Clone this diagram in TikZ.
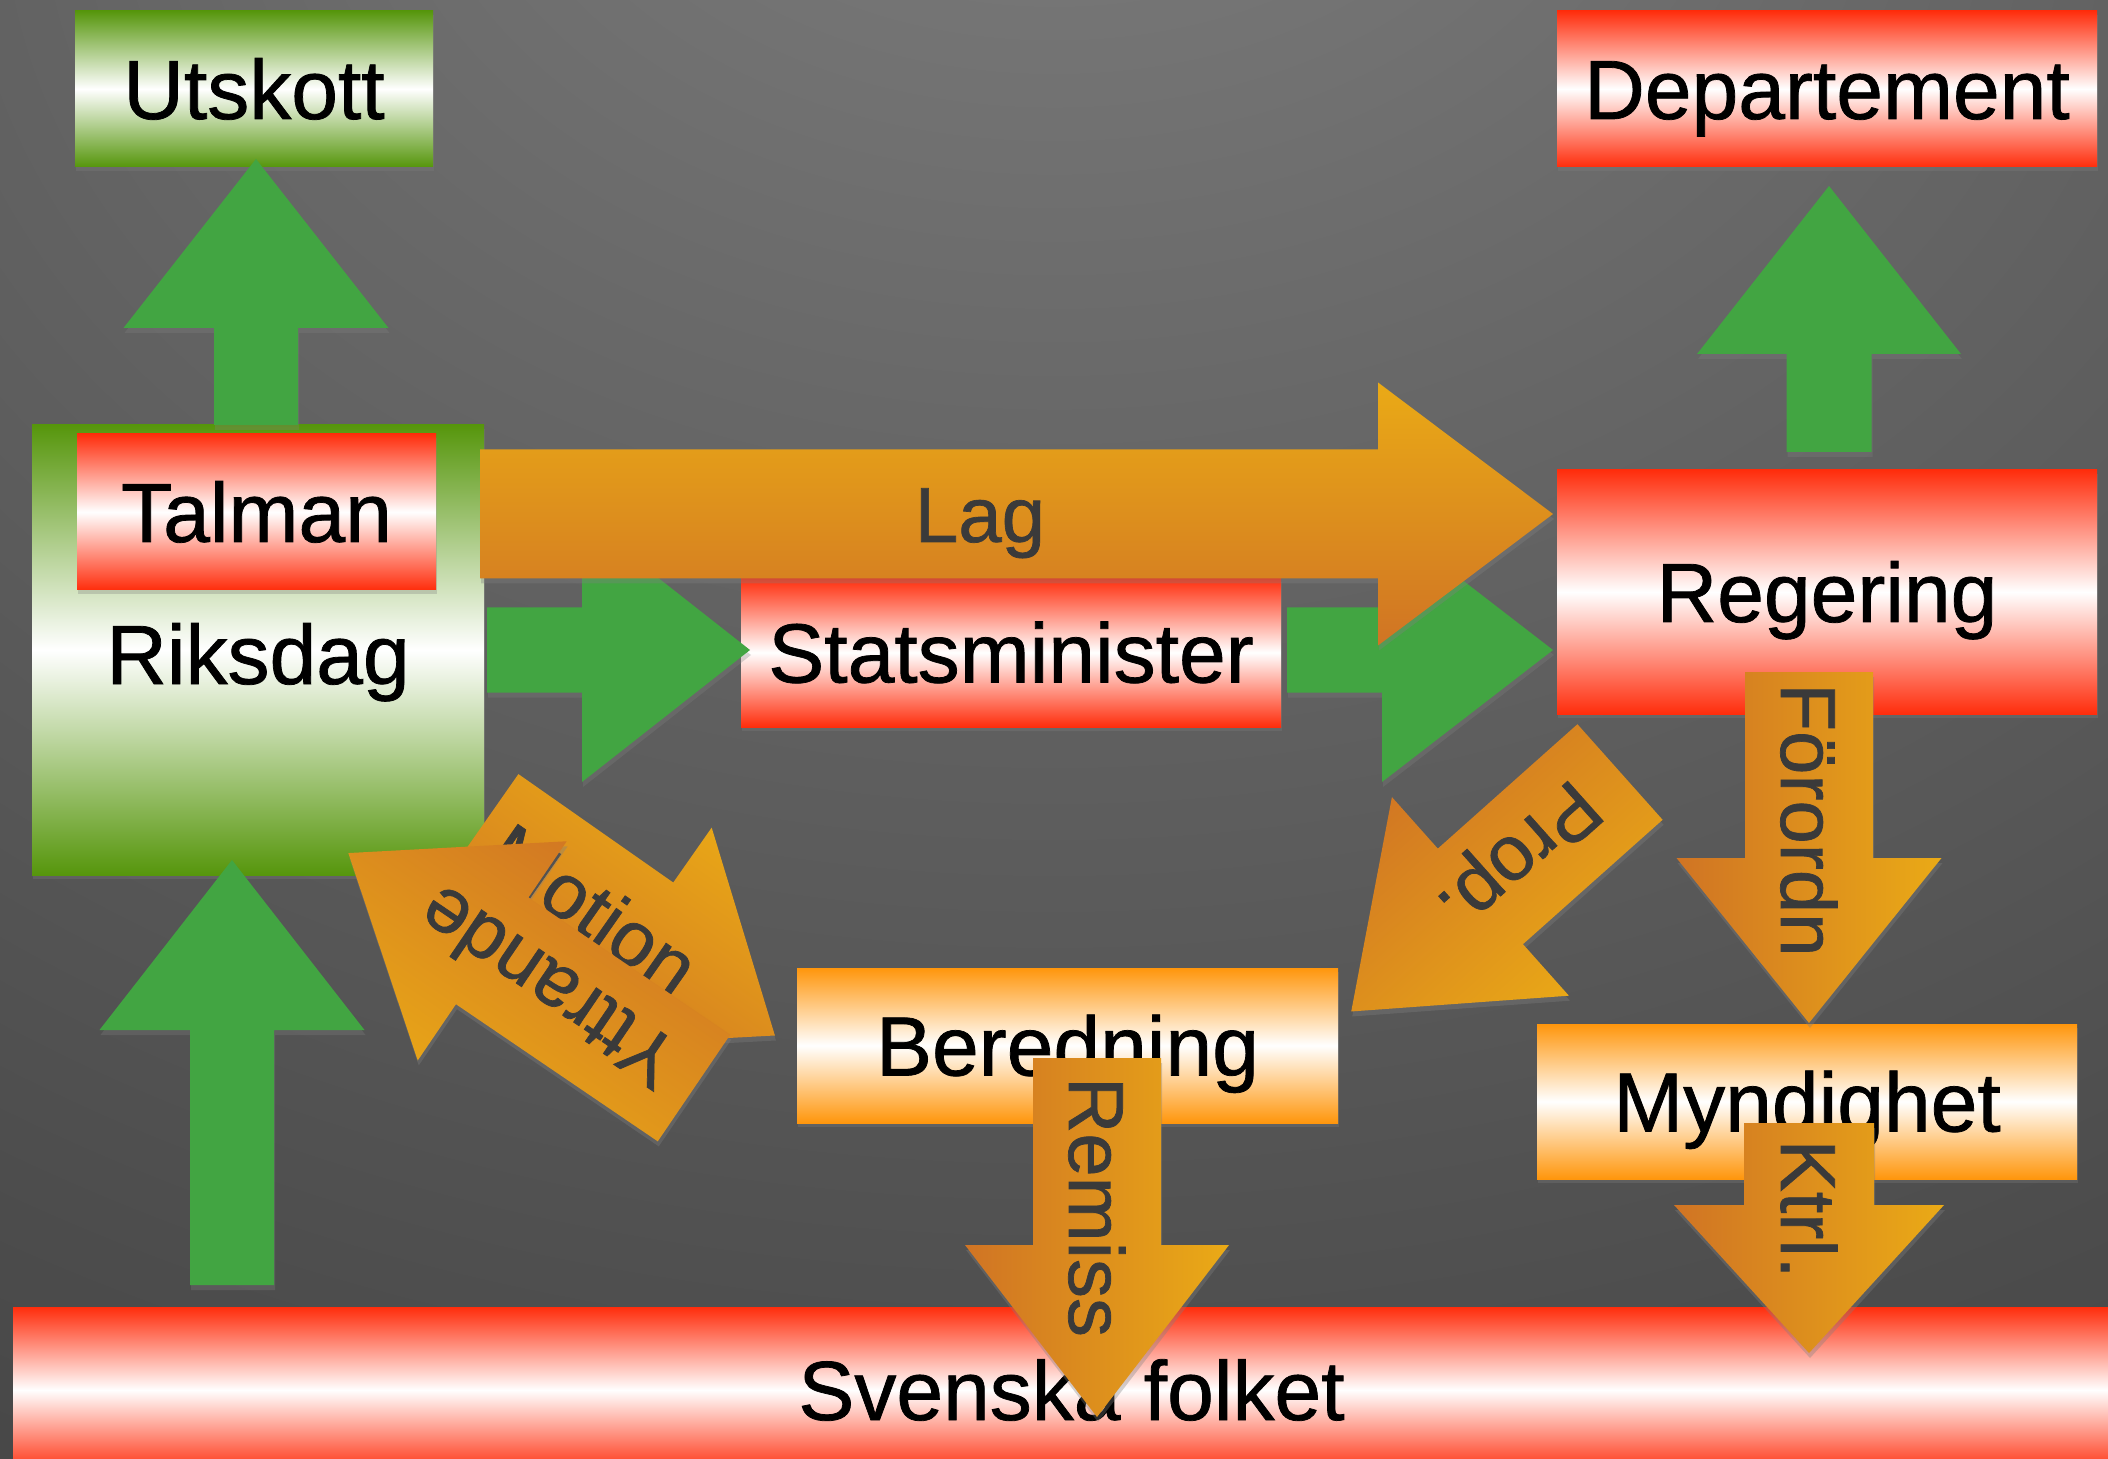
\documentclass[tikz,border=0pt]{standalone}
\usepackage{fontspec}
\setmainfont{Liberation Sans}[FakeBold=0.9]
\usetikzlibrary{shadows,calc}

\definecolor{bgA}{RGB}{128,128,128}
\definecolor{bgB}{RGB}{104,104,104}
\definecolor{bgC}{RGB}{76,76,76}
\definecolor{bgD}{RGB}{56,56,56}
\definecolor{greenA}{RGB}{86,150,12}
\definecolor{redA}{RGB}{255,45,12}
\definecolor{orangeA}{RGB}{255,150,12}
\definecolor{arrowgreen}{RGB}{66,165,66}
\definecolor{arrowlight}{RGB}{234,170,22}
\definecolor{arrowdark}{RGB}{208,116,36}
\definecolor{labelgray}{RGB}{58,58,58}

\pgfdeclareradialshading{bgshade}{\pgfpoint{0bp}{38bp}}{color(0bp)=(bgA); color(20bp)=(bgB); color(45bp)=(bgC); color(70bp)=(bgD); color(100bp)=(bgD)}

% box node: name, x1, y1, x2, y2, style, text
\newcommand\boxnode[7]{%
  \node[#6, minimum width={(#4-#2)*0.5pt}, minimum height={(#5-#3)*0.5pt}] (#1) at ({(#2+#4)/2},{(#3+#5)/2}) {#7};}

% fat arrow: name, back x, back y, angle, shaft length, head length, shaft half width, head half width, style
\newcommand\fatarrow[9]{%
  \begin{scope}[shift={(#2,#3)}, rotate=#4]
    \coordinate (#1-back) at (0,0);
    \coordinate (#1-tip) at ({#5+#6},0);
    \path[#9] (0,#7) -- (#5,#7) -- (#5,#8) -- ({#5+#6},0) -- (#5,-#8) -- (#5,-#7) -- (0,-#7) -- cycle;
  \end{scope}}

\tikzset{
  boxbase/.style={rectangle, inner sep=0pt, outer sep=0pt,
    font=\fontsize{42}{50}\selectfont, text=black, text height=30pt, text depth=0pt,
    drop shadow={shadow xshift=0.5pt, shadow yshift=-2pt, opacity=0.3}},
  redbox/.style={boxbase, top color=redA, bottom color=redA, middle color=white},
  greenbox/.style={boxbase, top color=greenA, bottom color=greenA, middle color=white},
  orangebox/.style={boxbase, top color=orangeA, bottom color=orangeA, middle color=white},
  boxlabel/.style={inner sep=0pt, font=\fontsize{42}{50}\selectfont, text=black, text height=30pt, text depth=0pt},
  greenarrow/.style={fill=arrowgreen, drop shadow={shadow xshift=0.5pt, shadow yshift=-2.5pt, opacity=0.3}},
  orangearrow/.style={top color=arrowlight, bottom color=arrowdark, shading angle=#1,
    drop shadow={shadow xshift=0.5pt, shadow yshift=-2.5pt, opacity=0.35}},
  arrowlabel/.style={inner sep=0pt, font=\fontsize{39}{46}\selectfont, text=labelgray, text height=28pt, text depth=0pt},
}

\begin{document}
\begin{tikzpicture}[x=0.5pt, y=-0.5pt]
\useasboundingbox (0,0) rectangle (2108,1459);
\shade[shading=bgshade] (0,0) rectangle (2108,1459);

% boxes
\boxnode{folket}{13}{1307}{2130}{1473}{redbox}{Svenska folket}
\boxnode{utskott}{75}{11}{433}{167}{greenbox}{Utskott}
\boxnode{departement}{1557}{11}{2097}{167}{redbox}{Departement}
\boxnode{riksdag}{32}{425}{484}{875}{greenbox}{}
\node[boxlabel] (riksdag-text) at (258,654) {Riksdag};
\boxnode{talman}{77}{434}{436}{590}{redbox}{Talman}
\boxnode{statsminister}{741}{578}{1281}{727}{redbox}{Statsminister}
\boxnode{regering}{1557}{470}{2097}{714}{redbox}{Regering}
\boxnode{beredning}{797}{968}{1338}{1123}{orangebox}{Beredning}
\boxnode{myndighet}{1537}{1024}{2077}{1179}{orangebox}{Myndighet}

% green arrows
\fatarrow{g1}{256}{425}{90}{97}{169}{42}{132.5}{greenarrow}
\fatarrow{g2}{232}{1285}{90}{255}{170}{42}{132.5}{greenarrow}
\fatarrow{g3}{1829}{452}{90}{98}{168}{42.5}{132}{greenarrow}
\fatarrow{g4}{487}{650}{0}{95}{168}{42.5}{132}{greenarrow}
\fatarrow{g5}{1287}{650}{0}{95}{171}{42.5}{132}{greenarrow}

% orange arrows
\fatarrow{lag}{480}{514}{0}{898}{175}{64.5}{131.5}{orangearrow=0}
\node[arrowlabel] (lag-text) at ($(lag-back)!250pt!(lag-tip)$) {Lag};

\fatarrow{forordn}{1809}{672}{-90}{186}{165}{64}{132.5}{orangearrow=-90}
\node[arrowlabel, rotate=-90] (forordn-text) at ($(forordn-back)!74pt!(forordn-tip)$) {Förordn};

\fatarrow{prop}{1620}{772}{221.7}{187}{173}{64}{133}{orangearrow=221.7}
\node[arrowlabel, rotate=221.7] (prop-text) at ($(prop-back)!66pt!(prop-tip)$) {Prop.};

\fatarrow{motion}{480}{829}{-35}{189}{171}{67}{134}{orangearrow=-35}
\node[arrowlabel, rotate=-35] (motion-text) at ($(motion-back)!69.5pt!(motion-tip)$) {Motion};

\fatarrow{yttrande}{694}{1088}{145.8}{244}{174}{64.5}{132.5}{orangearrow=145.8}
\node[arrowlabel, rotate=145.8] (yttrande-text) at ($(yttrande-back)!88.5pt!(yttrande-tip)$) {Yttrande};

\fatarrow{remiss}{1097}{1058}{-90}{187}{172}{64}{132}{orangearrow=-90}
\node[arrowlabel, rotate=-90] (remiss-text) at ($(remiss-back)!74.5pt!(remiss-tip)$) {Remiss};

\fatarrow{ktrl}{1809}{1123}{-90}{82}{148}{65}{135}{orangearrow=-90}
\node[arrowlabel, rotate=-90] (ktrl-text) at ($(ktrl-back)!43pt!(ktrl-tip)$) {Ktrl.};
\end{tikzpicture}
\end{document}
